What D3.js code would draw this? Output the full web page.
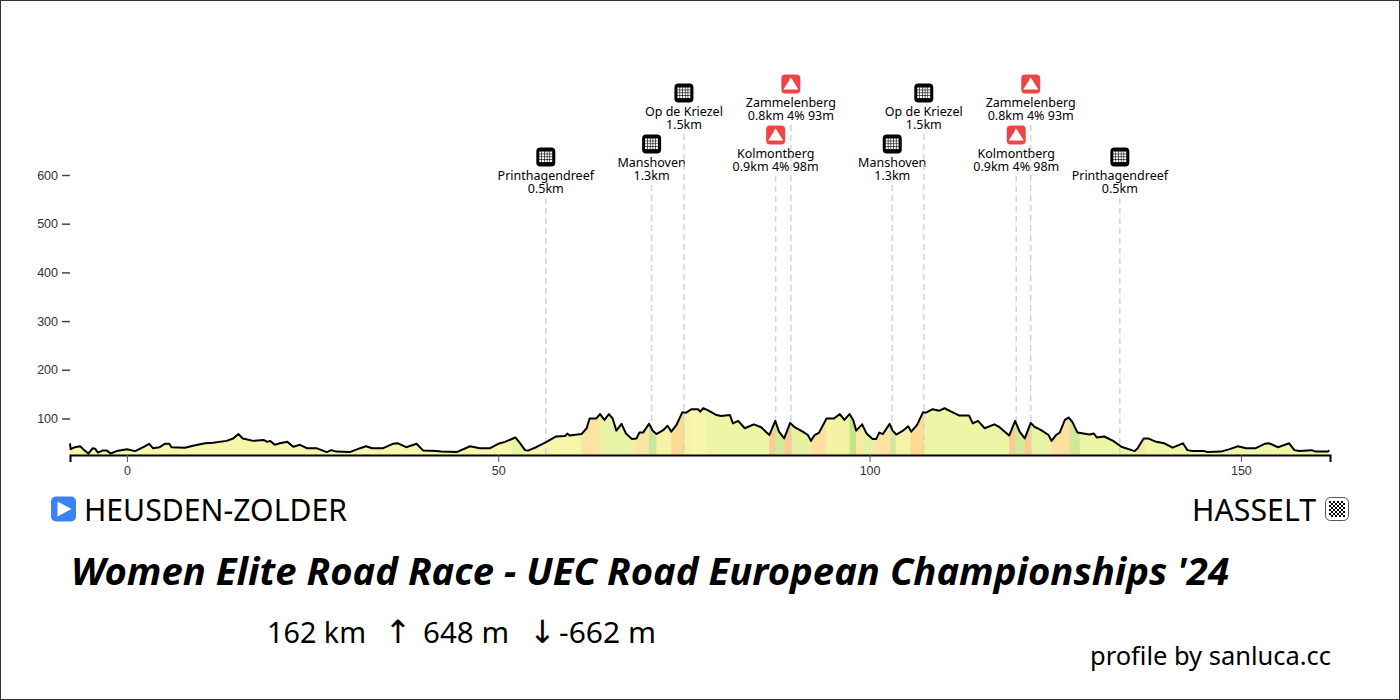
<!DOCTYPE html>
<html>
<head>
<meta charset="utf-8">
<script src="https://cdn.jsdelivr.net/npm/d3@7"></script>
<style>
  body { margin: 0; background: #fff; }
  svg { display: block; font-family: "Noto Sans", sans-serif; }
</style>
</head>
<body>
<svg id="chart"></svg>
<script>
// profile values
const profileKm = [-7.67,-7.58,-7,-6.3,-5.9,-5.2,-4.6,-4.3,-3.9,-3.3,-2.7,-2.2,-1.4,0,1.1,2.2,3,3.5,4.4,5.1,5.7,6,7.8,8.9,10.5,11.6,13.4,14.3,15,15.6,17,18.4,18.9,19.3,19.9,20.6,21.6,22.4,23.3,24.2,25.5,26.9,27.5,28.2,30,31.4,32.2,33,34.5,35.8,36.5,37.6,39,39.9,41.7,42.3,44.4,46.2,47.5,48.9,50,50.9,52.3,52.9,53.6,54,55.1,56.5,57.8,59,59.3,59.6,61.2,61.9,62.3,63.2,63.7,64.3,64.9,65.4,65.9,66.6,67.2,68,68.6,69,69.5,70.3,70.8,71.3,72.2,72.8,73.3,74,74.8,75.3,76,76.9,77.2,77.6,78.2,79.4,80,81.2,81.6,82.3,83.2,84.4,85.4,86.5,87.3,87.8,88.5,89.3,89.9,91,91.7,92.1,92.6,93.2,94.2,95.2,96,96.6,97.3,97.8,98.2,99,99.6,100.4,100.9,101.3,101.8,102.7,103.1,103.6,104.5,105.2,105.6,106.4,107.2,107.6,108.5,109.4,110.1,111,112.1,113.4,113.9,114.6,115.5,116.8,117.5,118.8,119.6,120.2,120.9,121.7,122.2,123.1,124.1,124.5,125.1,125.6,126.3,126.8,127.3,128,129.6,130.2,130.6,131.6,132.8,133.9,135.7,136.1,136.9,137.5,138.6,139.7,140.8,142.2,142.8,143.5,145.1,145.5,147.3,148.5,149.6,150.7,152,153.2,153.8,155,156.5,157.2,157.9,159.5,160.1,161.7,161.9];
const profileEle = [49,37,41,43,37,28,39,38,30,34,34,28,33,37,33,41,48,39,41,48,48,41,40,44,49,50,54,59,68,59,54,56,52,54,46,49,52,42,46,39,39,31,35,32,31,39,43,39,39,48,49,41,48,34,33,32,31,43,39,39,48,52,61,50,35,34,41,52,63,64,69,65,68,80,100,100,109,97,109,100,75,89,69,58,59,71,71,89,75,68,76,85,73,87,113,112,119,119,114,121,117,107,105,107,90,95,80,88,82,66,95,73,59,91,82,73,66,54,66,71,100,100,109,97,109,97,75,88,69,58,58,71,68,89,75,67,75,84,73,87,113,112,119,116,121,114,106,106,90,95,80,88,82,65,95,73,59,91,83,76,66,54,66,71,97,102,93,71,67,69,61,63,54,42,33,39,59,59,52,49,40,49,35,33,33,31,32,37,43,39,39,48,49,41,49,35,33,35,32,32,35];

// gradient bands: band i runs from bandStart[i] to bandStart[i + 1]
const bandStart = [-7.67,51.8,53.6,61.2,63.6,68.3,70.3,71.3,73.3,75.1,76,78,86.5,87.3,88.5,89.5,92.1,94.1,97.3,98.2,99,100.7,102.8,103.6,105.5,107.3,118.8,119.6,120.9,121.8,124.5,126.9,128.3,136.1,137.1,162];
const bandColor = ["#f5f6aa","#e9f3a4","#f5f6aa","#fbe3a1","#e8f3a5","#f9e6a4","#c9e795","#f6f3a6","#fbdb94","#f2f5a8","#f7f6aa","#edf5a7","#f9cd8d","#d3ea97","#f9cd8d","#e6f1a3","#fbe09f","#f5f2a6","#c3e588","#fae8a0","#e6f2a3","#fbe3a3","#d5eb99","#f6f3a6","#fbdb94","#edf5a7","#f9cd8d","#d3ea97","#f9cd8d","#e8f3a5","#fbe09f","#d0e997","#edf5a7","#fbe6a3","#f0f6a8"];

// climbs
const climbKm = [56.4,70.65,75,87.35,89.4,103.05,107.3,119.75,121.7,133.7];
const climbName = ["Printhagendreef","Manshoven","Op de Kriezel","Kolmontberg","Zammelenberg","Manshoven","Op de Kriezel","Kolmontberg","Zammelenberg","Printhagendreef"];
const climbInfo = ["0.5km","1.3km","1.5km","0.9km 4% 98m","0.8km 4% 93m","1.3km","1.5km","0.9km 4% 98m","0.8km 4% 93m","0.5km"];
const climbType = ["cobble","cobble","cobble","hill","hill","cobble","cobble","hill","hill","cobble"];

const yTicks = [100,200,300,400,500,600];
const xTicks = [0,50,100,150];

const startName = "HEUSDEN-ZOLDER";
const finishName = "HASSELT";
const raceTitle = "Women Elite Road Race - UEC Road European Championships '24";
const statLabels = ["162 km", "648 m", "-662 m"];
const statArrows = ["\u2191", "\u2193"];
const credit = "profile by sanluca.cc";

// icon centre per climb name, stacked so the labels don't collide
const iconY = { "Printhagendreef": 157, "Manshoven": 144, "Op de Kriezel": 93, "Kolmontberg": 135, "Zammelenberg": 84 };

const svgWidth = 1400;
const svgHeight = 700;
const margin = { left: 70, right: 70, bottom: 245 };

const svg = d3.select("#chart")
    .attr("width", svgWidth)
    .attr("height", svgHeight);

svg.append("rect")
    .attr("x", 0.5).attr("y", 0.5)
    .attr("width", svgWidth - 1).attr("height", svgHeight - 1)
    .attr("fill", "#fff").attr("stroke", "#333");

const xScale = d3.scaleLinear()
    .domain([-7.67, 162])
    .range([margin.left, svgWidth - margin.right]);

const yScale = d3.scaleLinear()
    .domain([25, 600])
    .range([svgHeight - margin.bottom, 175]);

const profile = profileKm.map((km, i) => ({ km: km, ele: profileEle[i] }));

// coloured bands clipped to the area under the profile
const area = d3.area()
    .x(d => xScale(d.km))
    .y0(yScale(25))
    .y1(d => yScale(d.ele));

svg.append("clipPath")
    .attr("id", "under-profile")
    .append("path")
    .attr("d", area(profile));

svg.append("g")
    .attr("clip-path", "url(#under-profile)")
    .selectAll("rect")
    .data(bandColor)
    .enter()
    .append("rect")
    .attr("x", (d, i) => xScale(bandStart[i]))
    .attr("width", (d, i) => xScale(bandStart[i + 1]) - xScale(bandStart[i]) + 0.5)
    .attr("y", yScale(600))
    .attr("height", yScale(25) - yScale(600))
    .attr("fill", d => d);

// climb markers
const climbs = svg.append("g")
    .selectAll("g")
    .data(climbKm.map((km, i) => ({ km: km, name: climbName[i], info: climbInfo[i], type: climbType[i] })))
    .enter()
    .append("g")
    .attr("transform", d => `translate(${xScale(d.km)},0)`);

climbs.append("line")
    .attr("y1", d => iconY[d.name] + 41)
    .attr("y2", yScale(25))
    .attr("stroke", "#d4d4d4")
    .attr("stroke-width", 1.5)
    .attr("stroke-dasharray", "6,4");

// name and climb stats are two lines of one label
const labels = climbs.append("text")
    .attr("y", d => iconY[d.name] + 22.5)
    .attr("text-anchor", "middle")
    .attr("font-size", 12.5);

labels.append("tspan")
    .attr("x", 0)
    .text(d => d.name);

labels.append("tspan")
    .attr("x", 0)
    .attr("dy", 13)
    .text(d => d.info);

const icons = climbs.append("g")
    .attr("transform", d => `translate(0,${iconY[d.name]})`);

icons.append("rect")
    .attr("x", -9.5).attr("y", -9.5)
    .attr("width", 19).attr("height", 19)
    .attr("rx", 4)
    .attr("fill", d => d.type === "hill" ? "#ef4444" : "#000");

icons.filter(d => d.type === "hill")
    .append("path")
    .attr("d", "M-7.5,5.5 L-2,-3 L-0.5,-6.5 L1,-5 L7.5,5.5 Z")
    .attr("fill", "#fff");

// white brick grid inside the cobble icon
const cobble = icons.filter(d => d.type === "cobble");
d3.range(4).forEach(row => {
    d3.range(5).forEach(col => {
        cobble.append("rect")
            .attr("x", -6.5 + col * 2.7)
            .attr("y", -5.5 + row * 2.8)
            .attr("width", 2.1)
            .attr("height", 2.2)
            .attr("fill", "#fff");
    });
});

// profile line
svg.append("path")
    .attr("d", d3.line().x(d => xScale(d.km)).y(d => yScale(d.ele))(profile))
    .attr("fill", "none")
    .attr("stroke", "#000")
    .attr("stroke-width", 2)
    .attr("stroke-linejoin", "round");

// axes
const yAxis = svg.append("g")
    .attr("transform", `translate(${margin.left},0)`)
    .call(d3.axisLeft(yScale).tickValues(yTicks).tickSize(8).tickPadding(4));
yAxis.select(".domain").remove();
yAxis.selectAll("text")
    .attr("font-family", "'Liberation Sans', Arial, sans-serif")
    .attr("font-size", 12.5)
    .attr("fill", "#333");
yAxis.selectAll("line").attr("stroke", "#444").attr("stroke-width", 1.5);

const xAxis = svg.append("g")
    .attr("transform", `translate(0,${yScale(25)})`)
    .call(d3.axisBottom(xScale).tickValues(xTicks).tickSize(7).tickPadding(4));
xAxis.select(".domain").attr("stroke", "#000").attr("stroke-width", 2);
xAxis.selectAll("text")
    .attr("font-family", "'Liberation Sans', Arial, sans-serif")
    .attr("font-size", 12.5)
    .attr("fill", "#333");
xAxis.selectAll("line").attr("stroke", "#555");

// start and finish
const playIcon = svg.append("g").attr("transform", "translate(63.5,509)");
playIcon.append("rect")
    .attr("x", -12.5).attr("y", -12.5)
    .attr("width", 25).attr("height", 25)
    .attr("rx", 5)
    .attr("fill", "#3b82f6");
playIcon.append("path")
    .attr("d", "M-6,-7.5 L8,0 L-6,7.5 Z")
    .attr("fill", "#fff");

svg.append("text")
    .attr("x", 84).attr("y", 521)
    .attr("font-size", 31)
    .attr("textLength", 263)
    .attr("lengthAdjust", "spacingAndGlyphs")
    .text(startName);

svg.append("text")
    .attr("x", 1192).attr("y", 521)
    .attr("font-size", 31)
    .attr("textLength", 124)
    .attr("lengthAdjust", "spacingAndGlyphs")
    .text(finishName);

const flagIcon = svg.append("g").attr("transform", "translate(1337,509)");
flagIcon.append("rect")
    .attr("x", -11.5).attr("y", -11.5)
    .attr("width", 23).attr("height", 23)
    .attr("rx", 5)
    .attr("fill", "#fff")
    .attr("stroke", "#555");
d3.range(8).forEach(row => {
    d3.range(8).forEach(col => {
        if ((row + col) % 2 === 0) {
            flagIcon.append("rect")
                .attr("x", -8 + col * 2)
                .attr("y", -8 + row * 2)
                .attr("width", 2)
                .attr("height", 2)
                .attr("fill", "#000");
        }
    });
});

// title block
svg.append("text")
    .attr("x", 71).attr("y", 585)
    .attr("font-size", 38)
    .attr("font-weight", 700)
    .attr("font-style", "italic")
    .attr("textLength", 1158)
    .attr("lengthAdjust", "spacingAndGlyphs")
    .text(raceTitle);

// stats line, each piece placed on its own so the arrows can use a font that has them
const statX = [267, 423, 559];
const statW = [99, 86, 97];
svg.append("g")
    .selectAll("text")
    .data(statLabels)
    .enter()
    .append("text")
    .attr("x", (d, i) => statX[i])
    .attr("y", 643)
    .attr("font-size", 29)
    .attr("textLength", (d, i) => statW[i])
    .attr("lengthAdjust", "spacingAndGlyphs")
    .text(d => d);

const arrowX = [398, 542.5];
svg.append("g")
    .selectAll("text")
    .data(statArrows)
    .enter()
    .append("text")
    .attr("x", (d, i) => arrowX[i])
    .attr("y", 643)
    .attr("text-anchor", "middle")
    .attr("font-family", "'DejaVu Sans', sans-serif")
    .attr("font-size", 32)
    .text(d => d);

svg.append("text")
    .attr("x", 1090).attr("y", 665)
    .attr("font-size", 25)
    .attr("textLength", 241)
    .attr("lengthAdjust", "spacingAndGlyphs")
    .text(credit);
</script>
</body>
</html>
